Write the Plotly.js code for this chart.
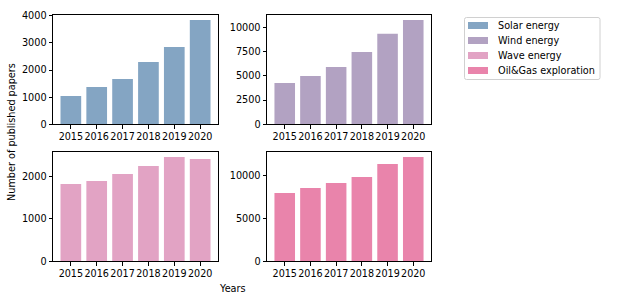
<!DOCTYPE html>
<html>
<head>
<meta charset="utf-8">
<script src="https://cdn.plot.ly/plotly-3.0.1.min.js"></script>
<style>html,body{margin:0;padding:0;background:#fff;}#chart{width:617px;height:300px;}</style>
</head>
<body>
<div id="chart"></div>
<script>
const years = ['2015', '2016', '2017', '2018', '2019', '2020'];
const solar = [1042, 1374, 1669, 2295, 2847, 3841];
const wind = [4258, 4979, 5907, 7454, 9340, 10753];
const wave = [1819, 1889, 2054, 2242, 2454, 2407];
const oilgas = [7944, 8528, 9112, 9813, 11332, 12150];
const seriesNames = ['Solar energy', 'Wind energy', 'Wave energy', 'Oil&Gas exploration'];
const colors = ['#84a5c3', '#b2a2c2', '#e2a3c4', '#e984ab'];
const yTicks = [[0, 1000, 2000, 3000, 4000], [0, 2500, 5000, 7500, 10000], [0, 1000, 2000], [0, 5000, 10000]];

const data = [solar, wind, wave, oilgas];
const font = {family: 'DejaVu Sans', size: 9.7, color: '#000'};
const tickFontX = {family: 'DejaVu Sans', size: 9.6, color: '#000'};
const traces = data.map((vals, i) => ({
  type: 'bar', x: years, y: vals, name: seriesNames[i],
  marker: {color: colors[i], line: {width: 0}},
  width: 0.8,
  showlegend: false,
  xaxis: i === 0 ? 'x' : 'x' + (i + 1),
  yaxis: i === 0 ? 'y' : 'y' + (i + 1),
  hoverinfo: 'x+y'
}));

const W = 617, H = 300;
const px = v => v / W;
const py = v => 1 - v / H;
const xd = [[53 / W, 218 / W], [267 / W, 431 / W]];
const yd = [[(H - 124.3) / H, (H - 14.8) / H], [(H - 261.3) / H, (H - 151.8) / H]];

const bx0 = 464.5, bx1 = 600, by0 = 17.5, by1 = 79.5, r = 2;
const boxPath = `M ${px(bx0 + r)},${py(by0)} L ${px(bx1 - r)},${py(by0)} Q ${px(bx1)},${py(by0)} ${px(bx1)},${py(by0 + r)} ` +
  `L ${px(bx1)},${py(by1 - r)} Q ${px(bx1)},${py(by1)} ${px(bx1 - r)},${py(by1)} ` +
  `L ${px(bx0 + r)},${py(by1)} Q ${px(bx0)},${py(by1)} ${px(bx0)},${py(by1 - r)} ` +
  `L ${px(bx0)},${py(by0 + r)} Q ${px(bx0)},${py(by0)} ${px(bx0 + r)},${py(by0)} Z`;
const shapes = [{type: 'path', xref: 'paper', yref: 'paper', path: boxPath,
  line: {color: '#d0d0d0', width: 1}, fillcolor: 'rgba(255,255,255,0.8)', layer: 'above'}];
const annotations = [
  {text: 'Number of published papers', xref: 'paper', yref: 'paper', x: px(11.5), y: py(132.5),
   textangle: -90, showarrow: false, font: font, xanchor: 'center', yanchor: 'middle'},
  {text: 'Years', xref: 'paper', yref: 'paper', x: px(232), y: py(288),
   showarrow: false, font: font, xanchor: 'center', yanchor: 'middle'}
];
seriesNames.forEach((name, i) => {
  const cy = 25.5 + 15 * i;
  shapes.push({type: 'rect', xref: 'paper', yref: 'paper', x0: px(468), x1: px(488),
    y0: py(cy - 3.5), y1: py(cy + 3.5), line: {width: 0}, fillcolor: colors[i], layer: 'above'});
  annotations.push({text: name, xref: 'paper', yref: 'paper', x: px(496), y: py(cy),
    showarrow: false, font: font, xanchor: 'left', yanchor: 'middle'});
});

const layout = {
  width: W, height: H,
  margin: {l: 0, r: 0, t: 0, b: 0},
  paper_bgcolor: '#fff', plot_bgcolor: '#fff',
  font: font,
  showlegend: false,
  bargap: 0.2,
  shapes: shapes,
  annotations: annotations
};

for (let i = 0; i < 4; i++) {
  const sfx = i === 0 ? '' : String(i + 1);
  const col = i % 2, row = Math.floor(i / 2);
  const maxV = Math.max(...data[i]);
  layout['xaxis' + sfx] = {
    domain: xd[col], anchor: 'y' + sfx,
    type: 'category', range: [-0.69, 5.69],
    showline: true, linecolor: '#000', linewidth: 1, mirror: true,
    ticks: 'outside', ticklen: 3.5, tickcolor: '#000', tickwidth: 1,
    tickangle: 0,
    showgrid: false, zeroline: false, tickfont: tickFontX, fixedrange: true
  };
  layout['yaxis' + sfx] = {
    domain: yd[row], anchor: 'x' + sfx,
    range: [0, maxV * 1.05],
    tickvals: yTicks[i], ticktext: yTicks[i].map(String),
    showline: true, linecolor: '#000', linewidth: 1, mirror: true,
    ticks: 'outside', ticklen: 3.5, tickcolor: '#000', tickwidth: 1,
    showgrid: false, zeroline: false, tickfont: font, fixedrange: true
  };
}

Plotly.newPlot('chart', traces, layout, {displayModeBar: false, staticPlot: true});
</script>
</body>
</html>
